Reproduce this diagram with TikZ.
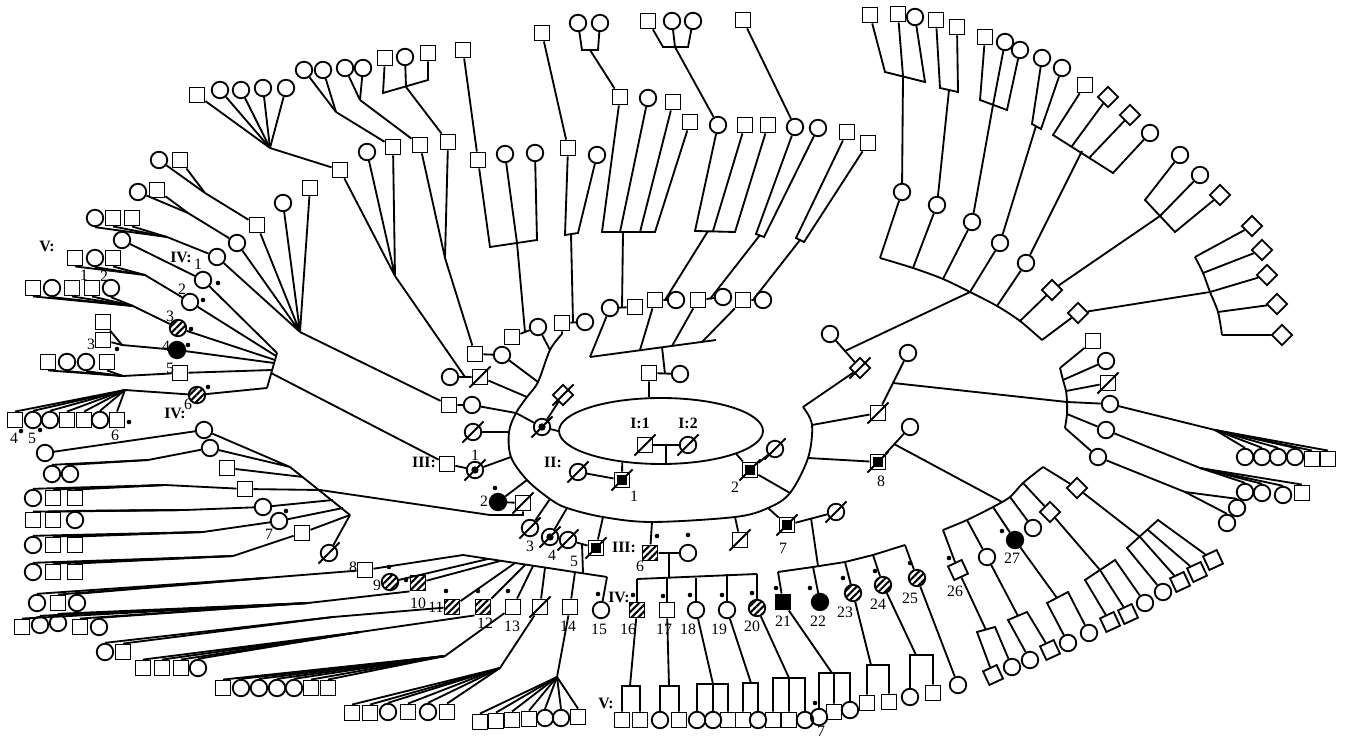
\documentclass[tikz,border=0pt]{standalone}
\usepackage{fontspec}
\setmainfont{Liberation Serif}
\usetikzlibrary{shapes.geometric, patterns.meta, positioning}

\tikzset{
  sym/.style={draw, inner sep=0pt},
  male/.style={sym, rectangle, minimum size=0.30cm},
  fem/.style={sym, circle, minimum size=0.33cm},
  unk/.style={sym, diamond, minimum size=0.42cm},
  aff/.style={fill=black},
  hat/.style={pattern={Lines[angle=45, distance=2.7pt, line width=1.2pt]}},
  ctr/.style={path picture={\fill (path picture bounding box.center) circle (2.1pt);}},
  box/.style={path picture={\fill ([shift={(1.5pt,1.5pt)}]path picture bounding box.south west)
      rectangle ([shift={(-1.5pt,-1.5pt)}]path picture bounding box.north east);}},
  lab/.style={inner sep=0pt, font=\fontsize{9}{10}\selectfont},
  gl/.style={inner sep=0pt, font=\bfseries\fontsize{9}{10}\selectfont}
}

\newcommand{\dead}[1]{\draw ([shift={(-6pt,-6pt)}]#1.center) -- ([shift={(6pt,6pt)}]#1.center);}
\newcommand{\mk}[1]{\fill (#1) circle (1.3pt);}
\newcommand{\ndm}[4]{\node[male, rotate=#4] (#1) at (#2,#3) {};}
\newcommand{\ndf}[4]{\node[fem] (#1) at (#2,#3) {};}
\newcommand{\ndu}[4]{\node[unk, rotate=#4] (#1) at (#2,#3) {};}
\newcommand{\gen}[3][0]{\foreach \x/\y/\t [count=\i] in {#3} {\csname nd\t\endcsname{#2\i}{\x}{\y}{#1}}}
\newcommand{\fan}[3]{\foreach \i in {1,...,#2} {\draw (#1\i) -- (#3);}}
\newcommand{\fana}[4]{\foreach \i in {1,...,#2} {\draw (#1\i.#3) -- (#4);}}

\begin{document}
\begin{tikzpicture}[x=0.02cm, y=-0.02cm, line width=1.05pt]
\useasboundingbox (0,0) rectangle (1345,739);

% generation I
\node[draw, ellipse, inner sep=0pt, minimum width=4.08cm, minimum height=1.32cm] (sib) at (661,431) {};
\node[male] (I1) at (645,445) {}; \dead{I1}
\node[fem] (I2) at (688,445) {}; \dead{I2}
\node[gl] (tI1) at (640,423) {I:1};
\node[gl] (tI2) at (688,423) {I:2};
\draw (I1) -- (I2);
\coordinate (mI) at (666,445);
\draw (mI) -- (mI |- sib.south);

% generation II
\node[gl] (tII) at (553,462) {II:};
\node[male, box] (II1) at (622,480) {}; \dead{II1}
\node[lab] (nII1) at (634,496) {1};
\node[fem] (II1w) at (578,472) {}; \dead{II1w}
\draw (II1w) -- (II1) (II1) -- (sib.219);
\node[male, box] (II2) at (750,470) {}; \dead{II2}
\node[lab] (nII2) at (735,487) {2};
\node[fem] (II2w) at (775,449) {}; \dead{II2w}
\draw (II2) -- (II2w) (II2) -- (sib.343);
\node[fem, ctr] (IIl) at (542,427) {}; \dead{IIl}
\node[unk] (IIlw) at (563,395) {}; \dead{IIlw}
\draw (IIl) -- (IIlw) (IIl) -- (sib.west);
\node[male] (IIt) at (649,373) {};
\node[fem] (IItw) at (680,374) {};
\draw (IIt) -- (IItw) (IIt) -- (IIt |- sib.north);

% big sibship arc
\foreach \n/\x/\y in {0/562/334, 1/550/350, 2/538/382, 3/527/397, 4/516/413, 5/509/432,
  6/511/457, 7/527/480, 8/550/499, 9/567/508, 10/603/517, 11/652/522, 12/735/517,
  13/768/508, 14/790/493, 15/808/458, 16/812/425, 17/803/407}
  \coordinate (p\n) at (\x,\y);
\draw plot[smooth, tension=0.55] coordinates {(p0) (p1) (p2) (p3) (p4) (p5) (p6) (p7) (p8)
  (p9) (p10) (p11) (p12) (p13) (p14) (p15) (p16) (p17)};
\draw (IIl) -- (p4) (II2) -- (p14);

% generation III, left
\node[fem] (IIIa) at (473,432) {}; \dead{IIIa}
\node[male] (IIIbh) at (449,405) {};
\node[fem] (IIIb) at (472,405) {};
\node[fem] (IIIcw) at (450,377) {};
\node[male] (IIIc) at (480,377) {}; \dead{IIIc}
\node[male] (IIIdh) at (475,354) {};
\node[fem] (IIId) at (502,355) {};
\draw (IIIa) -- (p5) (IIIbh) -- (IIIb) -- (p4) (IIIcw) -- (IIIc) -- (p3) (IIIdh) -- (IIId) -- (p2);
\coordinate (mIIIc) at (465,377);

\node[gl] (tIII1) at (424,462) {III:};
\node[male] (III1h) at (447,464) {};
\node[fem, ctr] (III1) at (475,470) {}; \dead{III1}
\node[lab] (nIII1) at (475,455) {1};
\draw (III1h) -- (III1) -- (p6);

\node[fem, aff] (III2) at (498,502) {};
\node[lab] (nIII2) at (484,501) {2}; \mk{495,488}
\node[male] (III2h) at (523,503) {}; \dead{III2h}
\coordinate (d2) at (490,515);
\draw (III2) -- (III2h) (III2) -- (p7);

\node[fem] (III3) at (530,528) {}; \dead{III3}
\node[lab] (nIII3) at (530,546) {3};
\node[fem, ctr] (III4) at (550,537) {}; \dead{III4}
\node[lab] (nIII4) at (552,555) {4};
\node[fem] (III5) at (568,540) {}; \dead{III5}
\node[lab] (nIII5) at (574,561) {5};
\node[male, box] (III5h) at (596,548) {}; \dead{III5h}
\draw (III3) -- (p8) (III4) -- (p9) (III5) -- (III5h) -- (p10);
\coordinate (c5) at (582,544);

\node[gl] (tIII2) at (624,547) {III:};
\node[male, hat] (III6) at (650,553) {};
\node[lab] (nIII6) at (640,566) {6}; \mk{657,536}
\node[fem] (III6w) at (688,553) {}; \mk{688,535}
\draw (III6) -- (III6w) (III6) -- (p11);
\node[male] (III6b) at (740,540) {}; \dead{III6b}
\draw (III6b) -- (p12);
\node[male, box] (III7) at (787,525) {}; \dead{III7}
\node[lab] (nIII7) at (783,548) {7};
\node[fem] (III7w) at (836,512) {}; \dead{III7w}
\draw (III7) -- (III7w) (III7) -- (p13);
\coordinate (c6) at (669,553);
\coordinate (c7) at (811,518);

% generation III, right
\node[male, box] (III8) at (878,462) {}; \dead{III8}
\node[lab] (nIII8) at (881,481) {8};
\node[fem] (III8w) at (910,427) {};
\node[male] (III9) at (878,413) {}; \dead{III9}
\node[fem] (III9w) at (908,353) {};
\node[unk] (III10) at (860,368) {}; \dead{III10}
\node[fem] (III10w) at (830,334) {};
\draw (III8) -- (III8w) (III8) -- (p15) (III9) -- (III9w) (III9) -- (p16)
      (III10) -- (III10w) (III10) -- (p17);
\coordinate (m8) at (894,444);
\coordinate (m9) at (893,383);
\coordinate (m10) at (845,351);

% generation III, top couples
\node[male] (T1h) at (512,337) {}; \node[fem] (T1) at (538,327) {};
\node[male] (T2) at (562,323) {}; \node[fem] (T2w) at (585,322) {};
\node[fem] (T3) at (610,308) {}; \node[male] (T3h) at (635,307) {};
\node[male] (T4) at (655,300) {}; \node[fem] (T4w) at (676,300) {};
\node[male] (T5) at (698,300) {}; \node[fem] (T5w) at (723,297) {};
\node[male] (T6) at (743,300) {}; \node[fem] (T6w) at (763,300) {};
\draw (T1h) -- (T1) (T2) -- (T2w) (T3) -- (T3h) (T4) -- (T4w) (T5) -- (T5w) (T6) -- (T6w);
\coordinate (t1m) at (525,332); \coordinate (t2m) at (573,322); \coordinate (t3m) at (622,308);
\coordinate (t4m) at (665,300); \coordinate (t5m) at (710,299); \coordinate (t6m) at (753,300);
\draw (T1) -- (p1) (T2) -- (p0);
\coordinate (sa) at (590,357); \coordinate (sb) at (716,340);
\coordinate (st2) at (640,350); \coordinate (st3) at (672,346); \coordinate (st4) at (702,342);
\coordinate (st5) at (662,347); \coordinate (mt) at (665,374);
\draw (sa) -- (sb) (mt) -- (st5);
\draw (T3) -- (sa) (T4) -- (st2) (T5) -- (st3) (T6) -- (st4);

% generation IV, top
\node[male] (N1) at (478,160) {};
\node[fem] (N2) at (505,154) {};
\node[fem] (N3) at (535,153) {};
\node[male] (N4) at (568,148) {};
\node[fem] (N5) at (597,155) {};
\node[male] (N6) at (620,97) {};
\node[fem] (N7) at (648,98) {};
\node[male] (N8) at (673,102) {};
\node[male] (N9) at (690,122) {};
\node[fem] (N10) at (718,125) {};
\node[male] (N11) at (745,125) {};
\node[male] (N12) at (768,125) {};
\node[fem] (N13) at (795,127) {};
\node[fem] (N14) at (818,128) {};
\node[male] (N15) at (847,132) {};
\node[male] (N16) at (868,143) {};
\coordinate (k1a) at (490,247); \coordinate (k1b) at (517,243); \coordinate (k1c) at (537,240);
\draw (N1) -- (k1a) -- (k1c) -- (N3) (N2) -- (k1b) -- (t1m);
\coordinate (k2a) at (565,235); \coordinate (k2m) at (571,234); \coordinate (k2b) at (578,233);
\draw (N4) -- (k2a) -- (k2b) -- (N5) (k2m) -- (t2m);
\coordinate (k3a) at (602,232); \coordinate (k3b) at (620,232); \coordinate (k3c) at (640,232);
\coordinate (k3d) at (655,232); \coordinate (k3m) at (623,232);
\draw (N6) -- (k3a) -- (k3d) -- (N9) (N7) -- (k3b) (N8) -- (k3c) (k3m) -- (t3m);
\coordinate (k4a) at (695,231); \coordinate (k4b) at (713,231); \coordinate (k4c) at (735,232);
\coordinate (k4m) at (708,231);
\draw (N10) -- (k4a) -- (k4c) -- (N12) (N11) -- (k4b) (k4m) -- (t4m);
\coordinate (k5a) at (756,234); \coordinate (k5m) at (760,235); \coordinate (k5b) at (764,237);
\draw (N13) -- (k5a) -- (k5b) -- (N14) (k5m) -- (t5m);
\coordinate (k6a) at (796,238); \coordinate (k6m) at (800,240); \coordinate (k6b) at (804,242);
\draw (N15) -- (k6a) -- (k6b) -- (N16) (k6m) -- (t6m);

% generation V, top
\node[male] (M1) at (463,50) {};
\node[male] (M2) at (542,33) {};
\node[male] (M5) at (743,20) {};
\draw (M1) -- (N1) (M2) -- (N4) (M5) -- (N13);
\gen{mc}{578/23/f, 600/23/f}
\coordinate (mca) at (582,50); \coordinate (mcm) at (590,50); \coordinate (mcb) at (598,50);
\draw (mc1) -- (mca) -- (mcb) -- (mc2) (mcm) -- (N6);
\gen{md}{648/21/m, 672/21/f, 693/21/f}
\coordinate (mda) at (663,47); \coordinate (mdm) at (675,47); \coordinate (mdb) at (688,47);
\draw (md1) -- (mda) -- (mdb) -- (md3) (md2) -- (mdm) -- (N10);

% generation IV, upper left
\node[fem] (U1) at (217,257) {};
\node[fem] (U2) at (237,243) {};
\node[male] (U3) at (257,225) {};
\node[fem] (U4) at (283,203) {};
\node[male] (U5) at (310,188) {};
\node[male] (U6) at (340,170) {};
\node[fem] (U7) at (367,152) {};
\node[male] (U8) at (393,147) {};
\node[male] (U9) at (420,145) {};
\node[male] (U10) at (448,142) {};
\coordinate (b1) at (300,332); \coordinate (b2) at (395,276); \coordinate (b3) at (445,258);
\draw (U1) -- (b1) (U2) -- (b1) (U3) -- (b1) (U4) -- (b1) (U5) -- (b1);
\draw (U6) -- (b2) (U7) -- (b2) (U8) -- (b2) (U9) -- (b3) (U10) -- (b3);
\draw (b1) -- (IIIbh) (b2) -- (mIIIc) (b3) -- (IIIdh);

% generation V, upper left
\gen{ga}{197/95/m, 220/90/f, 241/90/f, 263/88/f, 286/88/f}
\coordinate (jga) at (270,148); \fan{ga}{5}{jga}; \draw (jga) -- (U6);
\gen{gb}{304/70/f, 323/70/f}
\coordinate (jgb) at (336,112); \fan{gb}{2}{jgb}; \draw (jgb) -- (U8);
\gen{gc}{345/68/f, 363/68/f}
\coordinate (jgc) at (360,100); \fan{gc}{2}{jgc}; \draw (jgc) -- (U9);
\gen{gd}{385/58/m, 405/57/f, 428/53/m}
\coordinate (gda) at (383,93); \coordinate (gdm) at (406,87); \coordinate (gdb) at (428,80);
\draw (gd1) -- (gda) -- (gdb) -- (gd3) (gd2) -- (gdm) -- (U10);
\gen{ge}{159/160/f, 180/160/m}
\coordinate (jge) at (205,193); \fan{ge}{2}{jge}; \draw (jge) -- (U3);
\gen{gf}{138/192/f, 157/190/m}
\coordinate (jgf) at (188,213); \fan{gf}{2}{jgf}; \draw (jgf) -- (U2);
\gen{gg}{95/218/f, 113/218/m, 132/218/m}
\coordinate (jgg) at (167,237); \fana{gg}{3}{south}{jgg}; \draw (jgg) -- (U1);
\node[fem] (gh1) at (122,240) {};

% generation IV, left
\node[gl] (tIVa) at (181,257) {IV:};
\node[fem] (IV1) at (203,280) {}; \node[lab] (nIV1) at (198,264) {1}; \mk{218,283}
\node[fem] (IV2) at (190,302) {}; \node[lab] (nIV2) at (182,289) {2}; \mk{203,300}
\node[fem, hat] (IV3) at (178,328) {}; \node[lab] (nIV3) at (170,316) {3}; \mk{191,329}
\node[fem, aff] (IV4) at (177,350) {}; \node[lab] (nIV4) at (166,346) {4}; \mk{188,345}
\node[male] (IV5) at (180,373) {}; \node[lab] (nIV5) at (170,368) {5};
\node[fem, hat] (IV6) at (197,395) {}; \node[lab] (nIV6) at (188,404) {6}; \mk{208,387}
\node[gl] (tIVb) at (175,413) {IV:};
\foreach \n/\x/\y in {1/277/353, 2/276/356, 3/275/360, 4/274/363, 5/272/370, 6/267/388}
  \coordinate (jv\n) at (\x,\y);
\coordinate (jm) at (271,373);
\draw (jv1) -- (jv6) (jm) -- (III1h);
\draw (IV1) -- (jv1) (IV2) -- (jv2) (IV3) -- (jv3) (IV4) -- (jv4) (IV5) -- (jv5) (IV6) -- (jv6);
\draw (gh1) -- (IV1);

% generation V, left
\node[gl] (tVa) at (47,246) {V:};
\gen{va}{75/258/m, 95/258/f, 113/258/m}
\coordinate (jva) at (145,275); \fana{va}{3}{south}{jva}; \draw (jva) -- (IV2);
\gen{vb}{33/288/m, 52/288/f, 72/288/m, 92/288/m, 111/288/f}
\coordinate (jvb) at (133,306); \fana{vb}{5}{south}{jvb}; \draw (jvb) -- (IV3);
\node[lab] (nV1) at (84,275) {1}; \node[lab] (nV2) at (104,276) {2};
\gen{vc}{103/322/m, 103/340/m}
\coordinate (jvc) at (122,345); \fan{vc}{2}{jvc}; \draw (jvc) -- (IV4);
\node[lab] (nV3) at (91,344) {3}; \mk{117,349}
\gen{vd}{48/362/m, 67/362/f, 86/362/f, 107/362/m}
\coordinate (jvd) at (123,376); \fana{vd}{4}{south}{jvd}; \draw (jvd) -- (IV5);
\gen{ve}{15/420/m, 33/420/f, 50/420/f, 67/420/m, 84/420/m, 100/420/f, 117/420/m}
\coordinate (jve) at (125,390); \fana{ve}{7}{north}{jve}; \draw (jve) -- (IV6);
\node[lab] (nV4) at (14,438) {4}; \mk{21,431}
\node[lab] (nV5) at (32,438) {5}; \mk{40,430}
\node[lab] (nV6) at (115,435) {6}; \mk{129,422}

% generation IV, lower left
\node[fem] (L1) at (204,430) {};
\node[fem] (L2) at (210,448) {};
\node[male] (L3) at (227,468) {};
\node[male] (L4) at (245,489) {};
\node[fem] (L5) at (263,507) {};
\node[fem] (L6) at (279,521) {};
\node[male] (L7) at (302,533) {};
\node[fem] (L8) at (329,553) {}; \dead{L8}
\node[lab] (nL6) at (269,534) {7}; \mk{286,511}
\foreach \n/\x/\y in {1/290/467, 2/303/477, 3/320/490, 4/333/500, 5/343/508, 6/350/515}
  \coordinate (s\n) at (\x,\y);
\draw (s1) -- (s6);
\draw (L1) -- (s1) (L2) -- (s1) (L3) -- (s2) (L4) -- (s3) (L5) -- (s4) (L6) -- (s5)
      (L7) -- (s6) (L8) -- (s6);
\draw (III2h) |- (d2) -- (s3);

% generation V, lower left
\gen{wa}{45/453/f}
\draw (wa1) -- (L1);
\gen{wb}{52/474/f, 70/474/f}
\coordinate (jwb) at (148,460); \fana{wb}{2}{north}{jwb}; \draw (jwb) -- (L2);
\gen{wc}{33/498/f, 53/498/m, 75/498/m}
\coordinate (jwc) at (165,485); \fana{wc}{3}{north}{jwc}; \draw (jwc) -- (L4);
\gen{wd}{33/520/m, 53/520/m, 75/520/f}
\coordinate (jwd) at (185,510); \fana{wd}{3}{north}{jwd}; \draw (jwd) -- (L5);
\gen{we}{33/545/f, 53/545/m, 75/545/m}
\coordinate (jwe) at (203,532); \fana{we}{3}{north}{jwe}; \draw (jwe) -- (L6);
\gen{wf}{33/572/f, 53/572/m, 75/572/m}
\coordinate (jwf) at (233,556); \fana{wf}{3}{north}{jwf}; \draw (jwf) -- (L7);
\gen{wg}{37/603/f, 58/603/m, 77/603/f}
\coordinate (jwg) at (265,578); \fana{wg}{3}{north}{jwg};
\gen{wh}{22/627/m, 40/625/f, 58/623/f, 80/627/m, 99/627/f}
\coordinate (jwh) at (308,603); \fana{wh}{5}{north}{jwh};
\gen{wi}{105/652/f, 123/652/m}
\coordinate (jwi) at (333,617); \fana{wi}{2}{north}{jwi};
\gen{wj}{143/668/m, 162/668/m, 181/668/m, 198/668/f}
\coordinate (jwj) at (360,632); \fana{wj}{4}{north}{jwj};
\gen{wk}{223/688/m, 241/688/f, 259/688/f, 277/688/f, 294/688/f, 311/688/m, 328/688/m}
\coordinate (jwk) at (445,656); \fana{wk}{7}{north}{jwk};
\gen{wl}{352/713/m, 370/713/m, 388/712/f, 408/712/m, 428/712/f, 447/712/m}
\coordinate (jwl) at (500,668); \fana{wl}{6}{north}{jwl};
\gen{wm}{480/722/m, 496/721/m, 512/720/m, 529/719/m, 545/718/f, 561/718/f, 578/717/m}
\coordinate (jwm) at (557,677); \fana{wm}{7}{north}{jwm};

% generation IV, 8 to 15
\node[male] (IV8) at (365,570) {}; \node[lab] (n48) at (353,567) {8};
\node[fem, hat] (IV9) at (390,582) {}; \node[lab] (n49) at (377,585) {9}; \mk{389,567}
\node[male, hat] (IV10) at (418,583) {}; \node[lab] (n410) at (418,603) {10}; \mk{406,580}
\node[male, hat] (IV11) at (452,607) {}; \node[lab] (n411) at (436,607) {11}; \mk{446,591}
\node[male, hat] (IV12) at (483,607) {}; \node[lab] (n412) at (485,623) {12}; \mk{478,591}
\node[male] (IV13) at (513,607) {}; \node[lab] (n413) at (512,626) {13}; \mk{508,591}
\node[male] (IV14s) at (540,607) {}; \dead{IV14s}
\node[male] (IV14) at (570,607) {}; \node[lab] (n414) at (568,626) {14};
\node[fem] (IV15) at (601,610) {}; \node[lab] (n415) at (599,629) {15}; \mk{598,594}
\node[gl] (tIVc) at (619,597) {IV:};
\foreach \n/\x/\y in {a/463/555, b/488/559, c/500/561, d/515/563, e/525/565, f/533/566,
  g/545/568, h/575/572, i/607/577, p/583/573}
  \coordinate (z\n) at (\x,\y);
\draw (za) -- (zi) (c5) -- (zp);
\draw (IV8) -- (za) (IV9) -- (zb) (IV10) -- (zc) (IV11) -- (zd) (IV12) -- (ze) (IV13) -- (zf)
      (IV14s) -- (zg) (IV14) -- (zh) (IV15) -- (zi);
\draw (jwg) -- (IV8) (jwh) -- (IV10.south west) (jwi) -- (IV11) (jwj) -- (IV12.south west)
      (jwk) -- (IV13) (jwl) -- (IV14s) (jwm) -- (IV14);

% generation IV, 16 to 20
\coordinate (g6) at (669,578); \coordinate (sa6) at (637,579); \coordinate (sb6) at (757,574);
\draw (c6) -- (g6) (sa6) -- (sb6);
\node[male, hat] (IV16) at (637,610) {}; \node[lab] (n416) at (628,629) {16}; \mk{633,595}
\node[male] (IV17) at (667,610) {}; \node[lab] (n417) at (664,629) {17}; \mk{663,596}
\node[fem] (IV18) at (696,610) {}; \node[lab] (n418) at (688,629) {18}; \mk{690,595}
\node[fem] (IV19) at (727,610) {}; \node[lab] (n419) at (719,629) {19}; \mk{722,595}
\node[fem, hat] (IV20) at (757,608) {}; \node[lab] (n420) at (752,626) {20}; \mk{752,593}
\draw (IV16) -- (sa6) (IV17) -- (IV17 |- g6) (IV18) -- (IV18 |- g6) (IV19) -- (IV19 |- sb6)
      (IV20) -- (sb6);

% generation IV, 21 to 25
\foreach \n/\x/\y in {1/778/572, 2/813/567, 3/845/562, 4/873/555, 5/905/545}
  \coordinate (v\n) at (\x,\y);
\coordinate (g7) at (818,566);
\draw (v1) -- (v2) -- (v3) -- (v4) -- (v5) (c7) -- (g7);
\node[male, aff] (IV21) at (783,602) {}; \node[lab] (n421) at (783,621) {21}; \mk{776,588}
\node[fem, aff] (IV22) at (820,602) {}; \node[lab] (n422) at (818,621) {22}; \mk{810,588}
\node[fem, hat] (IV23) at (853,593) {}; \node[lab] (n423) at (845,612) {23}; \mk{843,578}
\node[fem, hat] (IV24) at (883,585) {}; \node[lab] (n424) at (878,604) {24}; \mk{875,571}
\node[fem, hat] (IV25) at (917,578) {}; \node[lab] (n425) at (910,598) {25}; \mk{910,563}
\draw (IV21) -- (v1) (IV22) -- (v2) (IV23) -- (v3) (IV24) -- (v4) (IV25) -- (v5);

% generation V, bottom
\node[gl] (tVb) at (606,703) {V:};
\gen{xa}{622/720/m, 640/720/m, 660/720/f, 679/720/m, 697/720/f, 713/720/f, 728/720/m,
  743/720/m, 758/720/f, 773/720/m, 789/720/m, 805/720/f, 819/717/f, 834/712/m, 850/710/f,
  867/703/m, 889/702/m, 910/697/f, 933/693/m, 958/685/f}
\node[lab] (nV7) at (821,731) {7}; \mk{815,703}
\coordinate (b16) at (630,686); \coordinate (b17) at (669,686); \coordinate (b18) at (713,684);
\coordinate (b19) at (751,683); \coordinate (b20) at (789,678); \coordinate (b21) at (832,673);
\coordinate (b23) at (871,665); \coordinate (b24) at (916,655);
\draw (xa1) |- (b16) -| (xa2) (IV16) -- (b16);
\draw (xa3) |- (b17) -| (xa4) (IV17) -- (b17);
\draw (xa5) |- (b18) -| (xa7) (xa6) -- (xa6 |- b18) (IV18) -- (b18);
\draw (xa8) |- (b19) -| (xa9) (IV19) -- (b19);
\draw (xa10) |- (b20) -| (xa12) (xa11) -- (xa11 |- b20) (IV20) -- (b20);
\draw (xa13) |- (b21) -| (xa15) (xa14) -- (xa14 |- b21) (IV21) -- (b21);
\draw (xa16) |- (b23) -| (xa17) (IV23) -- (b23);
\draw (xa18) |- (b24) -| (xa19) (IV24) -- (b24);
\draw (IV25) -- (xa20);

% lower right
\foreach \n/\x/\y in {1/943/530, 2/967/520, 3/993/507, 4/1010/497, 5/1023/483, 6/1043/467}
  \coordinate (r\n) at (\x,\y);
\draw plot[smooth] coordinates {(r1) (r2) (r3) (r4) (r5) (r6)};
\coordinate (g8) at (1002,502);
\draw (m8) -- (g8);
\node[male, rotate=25] (IV26) at (958,570) {};
\node[lab] (n426) at (955,591) {26}; \mk{949,558}
\node[fem] (P2) at (987,557) {};
\node[fem, aff] (IV27) at (1015,540) {};
\node[lab] (n427) at (1012,558) {27}; \mk{1002,531}
\node[fem] (P4) at (1033,528) {};
\node[unk] (P5) at (1050,512) {};
\node[unk] (P6) at (1077,488) {};
\draw (IV26) -- (r1) (P2) -- (r2) (IV27) -- (r3) (P4) -- (r4) (P5) -- (r5) (P6) -- (r6);
\gen[25]{ya}{993/675/m, 1012/667/f, 1030/660/f, 1050/650/m, 1068/643/f, 1089/633/f,
  1110/622/m, 1128/614/m, 1145/603/f, 1163/592/f, 1180/582/m, 1197/572/m, 1213/560/m}
\coordinate (yqa1) at (977,632); \coordinate (yqb1) at (995,627); \coordinate (yqm1) at (986,630);
\draw (ya1) -- (yqa1) -- (yqb1) -- (ya2) (IV26) -- (yqm1);
\coordinate (yqa2) at (1008,620); \coordinate (yqb2) at (1027,612); \coordinate (yqm2) at (1018,616);
\draw (ya3) -- (yqa2) -- (yqb2) -- (ya4) (P2) -- (yqm2);
\coordinate (yqa3) at (1047,603); \coordinate (yqb3) at (1068,592); \coordinate (yqm3) at (1057,598);
\draw (ya5) -- (yqa3) -- (yqb3) -- (ya6) (IV27) -- (yqm3);
\coordinate (yqa4) at (1085,580); \coordinate (yqb4) at (1115,560); \coordinate (yqm4) at (1100,570);
\draw (ya7) -- (yqa4) -- (yqb4) -- (ya9) (ya8) -- (yqm4) (P5) -- (yqm4);
\coordinate (yqa5) at (1127,548); \coordinate (yqb5) at (1158,520);
\coordinate (yqm5) at (1140,537); \coordinate (yqn5) at (1148,530);
\draw (ya10) -- (yqa5) -- (yqb5) -- (ya13) (ya11) -- (yqm5) (ya12) -- (yqn5) (P6) -- (yqm5);

% right
\foreach \n/\x/\y in {1/1060/368, 2/1063/380, 3/1066/391, 4/1067/402, 5/1067/414, 6/1065/428}
  \coordinate (h\n) at (\x,\y);
\draw plot[smooth] coordinates {(h1) (h2) (h3) (h4) (h5) (h6)};
\draw (m9) -- (h4);
\node[male] (R1) at (1093,341) {};
\node[fem] (R2) at (1106,361) {};
\node[male] (R3) at (1108,383) {}; \dead{R3}
\node[fem] (R4) at (1110,404) {};
\node[fem] (R5) at (1106,430) {};
\node[fem] (R6) at (1098,457) {};
\draw (R1) -- (h1) (R2) -- (h2) (R3) -- (h3) (R4) -- (h4) (R5) -- (h5) (R6) -- (h6);
\gen{ra}{1245/457/f, 1262/457/f, 1278/457/f, 1295/457/f, 1312/459/m, 1328/459/m}
\coordinate (jra) at (1215,430); \fana{ra}{6}{north}{jra}; \draw (R4) -- (jra);
\gen{rb}{1245/492/f, 1262/493/f, 1283/495/f, 1302/493/m}
\coordinate (jrb) at (1200,468); \fana{rb}{4}{north}{jrb}; \draw (R5) -- (jrb);
\gen{rc}{1237/508/f, 1227/523/f}
\coordinate (jrc) at (1185,492); \fana{rc}{2}{north}{jrc}; \draw (R6) -- (jrc);

% upper right
\foreach \n/\x/\y in {1/880/258, 2/913/268, 3/943/279, 4/970/292, 5/997/306, 6/1020/321, 7/1042/340}
  \coordinate (q\n) at (\x,\y);
\draw plot[smooth, tension=0.5] coordinates {(q1) (q2) (q3) (q4) (q5) (q6) (q7)};
\draw (m10) -- (q4);
\node[fem] (C1) at (902,192) {};
\node[fem] (C2) at (937,205) {};
\node[fem] (C3) at (972,222) {};
\node[fem] (C4) at (1000,243) {};
\node[fem] (C5) at (1026,263) {};
\node[unk] (D1) at (1052,290) {};
\node[unk] (D2) at (1078,313) {};
\draw (C1) -- (q1) (C2) -- (q2) (C3) -- (q3) (C4) -- (q4) (C5) -- (q5) (D1) -- (q6) (D2) -- (q7);
\gen{ta}{870/15/m, 898/14/m, 915/17/f}
\coordinate (taa) at (885,72); \coordinate (tam) at (903,76); \coordinate (tab) at (925,82);
\draw (ta1) -- (taa) -- (tab) -- (ta3) (ta2) -- (tam) (C1) -- (tam);
\gen{tb}{936/20/m, 957/27/m}
\coordinate (tba) at (940,88); \coordinate (tbm) at (949,90); \coordinate (tbb) at (958,92);
\draw (tb1) -- (tba) -- (tbb) -- (tb2) (C2) -- (tbm);
\gen{tc}{985/37/m, 1005/42/f, 1020/50/f}
\coordinate (tca) at (980,100); \coordinate (tcm) at (993,105); \coordinate (tcb) at (1007,110);
\draw (tc1) -- (tca) -- (tcb) -- (tc3) (tc2) -- (tcm) (C3) -- (tcm);
\gen{td}{1042/58/f, 1062/68/f}
\coordinate (tda) at (1032,124); \coordinate (tdm) at (1036,126); \coordinate (tdb) at (1041,129);
\draw (td1) -- (tda) -- (tdb) -- (td2) (C4) -- (tdm);
\gen{te}{1085/85/m, 1108/97/u, 1130/115/u, 1150/133/f}
\coordinate (tea) at (1053,135); \coordinate (teb) at (1072,146); \coordinate (tec) at (1090,157);
\coordinate (ted) at (1113,173); \coordinate (tem) at (1082,151);
\draw (te1) -- (tea) -- (ted) -- (te4) (te2) -- (teb) (te3) -- (tec) (C5) -- (tem);
\gen{tf}{1180/155/f, 1200/175/f, 1220/195/u}
\coordinate (tfa) at (1145,200); \coordinate (tfm) at (1160,216); \coordinate (tfb) at (1175,232);
\draw (tf1) -- (tfa) -- (tfb) -- (tf3) (tf2) -- (tfm) (D1) -- (tfm);
\gen{tg}{1252/226/u, 1262/250/u, 1267/275/u, 1277/304/u, 1282/335/u}
\foreach \n/\x/\y in {1/1195/257, 2/1203/273, 3/1210/292, 4/1218/312, 5/1222/335}
  \coordinate (f\n) at (\x,\y);
\draw plot[smooth] coordinates {(f1) (f2) (f3) (f4) (f5)};
\foreach \n in {1,...,5} \draw (tg\n) -- (f\n);
\draw (D2) -- (f3);

\end{tikzpicture}
\end{document}
